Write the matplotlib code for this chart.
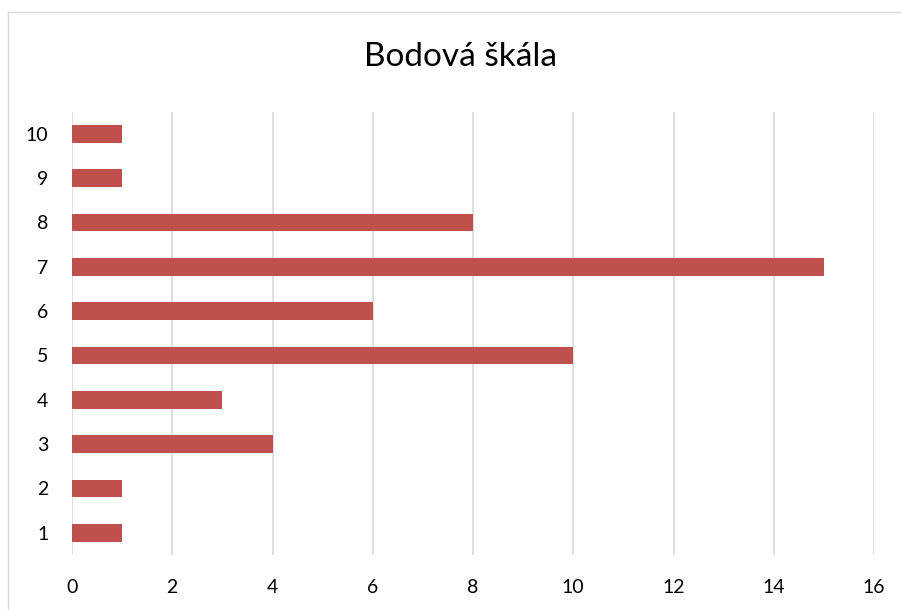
import matplotlib
matplotlib.use("Agg")
import matplotlib.pyplot as plt
from matplotlib.lines import Line2D

categories = ["1", "2", "3", "4", "5", "6", "7", "8", "9", "10"]
values = [1, 1, 4, 3, 10, 6, 15, 8, 1, 1]
xticks = [0, 2, 4, 6, 8, 10, 12, 14, 16]

plt.rcParams['font.family'] = ['Lato', 'DejaVu Sans']

W, H = 901, 610
fig = plt.figure(figsize=(W / 100, H / 100), dpi=100)
ax = fig.add_axes([72 / W, (H - 555) / H, (874 - 72) / W, (555 - 111.5) / H])

pos = list(range(len(categories)))
ax.barh(pos, values, height=0.4, color="#C0504D", zorder=3)
ax.set_yticks(pos)
ax.set_yticklabels(categories)
ax.set_ylim(-0.5, len(categories) - 0.5)
ax.set_xlim(0, 16)
ax.set_xticks(xticks)
ax.set_xticklabels([str(t) for t in xticks])
ax.grid(axis="x", color="#D9D9D9", linewidth=1.2, zorder=0)
for s in ax.spines.values():
    s.set_visible(False)
ax.tick_params(axis="both", length=0, labelsize=14, colors="black")
ax.tick_params(axis="x", pad=17)
ax.tick_params(axis="y", pad=17)

fig.text(461 / W, 1 - 57 / H, "Bodová škála", ha="center", va="center", fontsize=24)

fig.add_artist(Line2D([8 / W, 1], [1 - 12 / H, 1 - 12 / H], color="#D9D9D9", linewidth=1, transform=fig.transFigure))
fig.add_artist(Line2D([8 / W, 8 / W], [0, 1 - 12 / H], color="#D9D9D9", linewidth=1, transform=fig.transFigure))

fig.savefig("out.png", dpi=100)
